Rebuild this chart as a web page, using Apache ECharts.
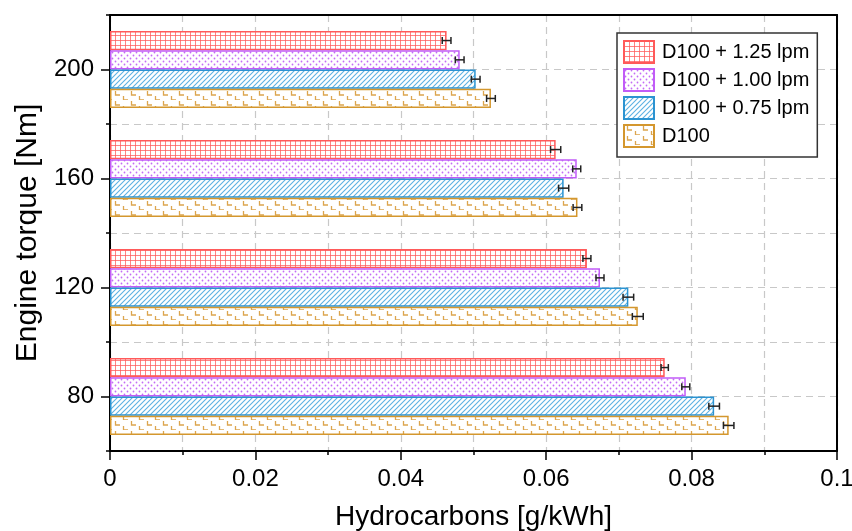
<!DOCTYPE html>
<html><head><meta charset="utf-8">
<script src="https://cdn.jsdelivr.net/npm/echarts@6/dist/echarts.min.js"></script>
<style>html,body{margin:0;padding:0;background:#fff}#c{width:852px;height:531px}</style>
</head><body><div id="c"></div>
<script>
const torques = ['80', '120', '160', '200'];
const seriesNames = ['D100', 'D100 + 0.75 lpm', 'D100 + 1.00 lpm', 'D100 + 1.25 lpm'];
const hcD100 = [0.0851, 0.0726, 0.0643, 0.0524];
const hc075  = [0.0831, 0.0713, 0.0624, 0.0503];
const hc100  = [0.0792, 0.0674, 0.0642, 0.0481];
const hc125  = [0.0763, 0.0656, 0.0613, 0.0463];
const errD100 = [0.00072, 0.00075, 0.0006, 0.0006];
const err075  = [0.00073, 0.00073, 0.0007, 0.0006];
const err100  = [0.00055, 0.00055, 0.00055, 0.0006];
const err125  = [0.0005, 0.00055, 0.0007, 0.0006];
const xTicks = {min: 0, max: 0.1, interval: 0.02};

const values = [hcD100, hc075, hc100, hc125];
const errors = [errD100, err075, err100, err125];
const colors = ['#d4972e', '#2b93d1', '#c15cf7', '#ff5a5a'];
const FONT = 'Liberation Sans, Arial, sans-serif';
const BARW = 19.3;

function tile(w, h, draw) {
  const c = document.createElement('canvas');
  c.width = w; c.height = h;
  const g = c.getContext('2d');
  g.fillStyle = '#fff'; g.fillRect(0, 0, w, h);
  draw(g);
  return {image: c, repeat: 'repeat'};
}
const patterns = [
  tile(16, 10, g => {
    g.strokeStyle = '#dca54e'; g.lineWidth = 1.3; g.beginPath();
    g.moveTo(3.5, 1); g.lineTo(3.5, 5); g.lineTo(8, 5);
    g.moveTo(11.5, 6); g.lineTo(11.5, 10); g.lineTo(16, 10);
    g.stroke();
  }),
  tile(5, 5, g => {
    g.strokeStyle = '#5db2e3'; g.lineWidth = 1.1; g.beginPath();
    g.moveTo(0, 5); g.lineTo(5, 0);
    g.moveTo(-1, 1); g.lineTo(1, -1);
    g.moveTo(4, 6); g.lineTo(6, 4);
    g.stroke();
  }),
  tile(6, 6, g => {
    g.fillStyle = '#c46cf5';
    g.beginPath(); g.arc(1.5, 1.5, 0.9, 0, Math.PI * 2); g.fill();
    g.beginPath(); g.arc(4.5, 4.5, 0.9, 0, Math.PI * 2); g.fill();
  }),
  tile(5, 5, g => {
    g.strokeStyle = 'rgba(255,90,90,0.75)'; g.lineWidth = 1; g.beginPath();
    g.moveTo(0.5, 0); g.lineTo(0.5, 5);
    g.moveTo(0, 0.5); g.lineTo(5, 0.5);
    g.stroke();
  })
];

// first bar series is drawn at the top of each band
const order = [3, 2, 1, 0];
const series = [];
order.forEach((k) => {
  series.push({
    type: 'bar', name: seriesNames[k], yAxisIndex: 0, xAxisIndex: 0,
    barWidth: BARW, barGap: '0%',
    data: values[k],
    itemStyle: {color: patterns[k], borderColor: colors[k], borderWidth: 1.5},
    z: 2
  });
});
order.forEach((k, j) => {
  series.push({
    type: 'custom', name: 'err' + k, yAxisIndex: 0, xAxisIndex: 0, z: 5,
    data: values[k].map((v, i) => [v, i, errors[k][i]]),
    encode: {x: 0, y: 1},
    renderItem: (params, api) => {
      const v = api.value(0), c = api.value(1), e = api.value(2);
      const p1 = api.coord([v - e, c]);
      const p2 = api.coord([v + e, c]);
      const y = p1[1] + (j - 1.5) * BARW;
      const cap = 3.5;
      const st = {stroke: '#222', lineWidth: 1.5, fill: null};
      return {type: 'group', children: [
        {type: 'line', shape: {x1: p1[0], y1: y, x2: p2[0], y2: y}, style: st},
        {type: 'line', shape: {x1: p1[0], y1: y - cap, x2: p1[0], y2: y + cap}, style: st},
        {type: 'line', shape: {x1: p2[0], y1: y - cap, x2: p2[0], y2: y + cap}, style: st}
      ]};
    }
  });
});

const chart = echarts.init(document.getElementById('c'), null, {renderer: 'canvas'});
chart.setOption({
  animation: false,
  backgroundColor: '#fff',
  grid: {left: 110, right: 15, top: 15, bottom: 80, containLabel: false, outerBoundsMode: 'none'},
  legend: {
    data: seriesNames.slice().reverse(),
    orient: 'vertical', left: 617, top: 33,
    padding: [7, 8, 9, 6], itemWidth: 30, itemHeight: 22, itemGap: 4,
    icon: 'rect',
    borderColor: '#333', borderWidth: 1.5, backgroundColor: '#fff',
    textStyle: {fontSize: 20, fontFamily: FONT, color: '#000', padding: [0, 0, 0, 3]}
  },
  xAxis: [{
    type: 'value', min: xTicks.min, max: xTicks.max, interval: xTicks.interval,
    name: 'Hydrocarbons [g/kWh]', nameLocation: 'middle', nameGap: 52,
    nameTextStyle: {fontSize: 28, fontFamily: FONT, color: '#000'},
    axisLine: {show: true, lineStyle: {color: '#000', width: 2}},
    axisTick: {show: true, length: 9, lineStyle: {color: '#000', width: 1.5}},
    minorTick: {show: true, splitNumber: 2, length: 4, lineStyle: {color: '#000', width: 1.5}},
    axisLabel: {fontSize: 24, fontFamily: FONT, color: '#000', margin: 16},
    splitLine: {show: true, lineStyle: {color: '#c8c8c8', type: [7, 5], width: 1.2}},
    minorSplitLine: {show: true, lineStyle: {color: '#c8c8c8', type: [7, 5], width: 1.2}}
  }, {
    type: 'value', position: 'top', min: xTicks.min, max: xTicks.max,
    axisLine: {show: true, onZero: false, lineStyle: {color: '#000', width: 2}},
    axisTick: {show: false}, axisLabel: {show: false}, splitLine: {show: false}
  }],
  yAxis: [{
    type: 'category', data: torques, boundaryGap: true, position: 'left',
    name: 'Engine torque [Nm]', nameLocation: 'middle', nameGap: 66,
    nameTextStyle: {fontSize: 30, fontFamily: FONT, color: '#000'},
    axisLine: {show: true, lineStyle: {color: '#000', width: 2}},
    axisTick: {show: true, alignWithLabel: true, length: 9, lineStyle: {color: '#000', width: 1.5}},
    axisLabel: {fontSize: 24, fontFamily: FONT, color: '#000', margin: 16},
    splitLine: {show: false}
  }, {
    type: 'value', min: 60, max: 220, interval: 20, position: 'left', offset: 0,
    axisLine: {show: false}, axisLabel: {show: false},
    axisTick: {show: true, length: 4, lineStyle: {color: '#000', width: 1.5}},
    splitLine: {show: true, lineStyle: {color: '#c8c8c8', type: [7, 5], width: 1.2}}
  }, {
    type: 'value', min: 60, max: 220, position: 'right', offset: 0,
    axisLine: {show: true, onZero: false, lineStyle: {color: '#000', width: 2}},
    axisTick: {show: false}, axisLabel: {show: false}, splitLine: {show: false}
  }],
  series: series
});
</script></body></html>
